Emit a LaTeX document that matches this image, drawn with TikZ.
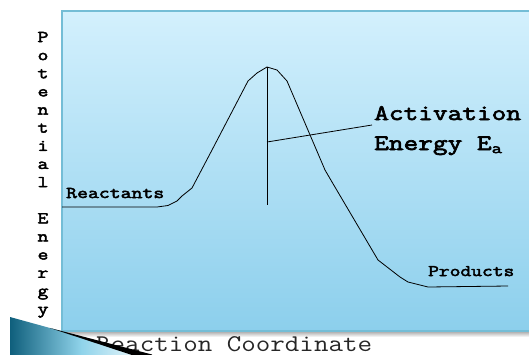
\documentclass[tikz,border=0pt]{standalone}
\usepackage{fontspec}
\newfontfamily\courB{Latin Modern Mono}[FakeStretch=1.29,FakeBold=3]
\newfontfamily\courR{Latin Modern Mono}[FakeStretch=1.175]
\begin{document}
\begin{tikzpicture}[x=1pt,y=-1pt,
  curve/.style={line width=0.8pt,black,line join=round},
  lbl/.style={inner sep=0pt,anchor=base west},
  vlet/.style={inner sep=0pt,anchor=base,font=\courB\fontsize{16.4}{16.4}\selectfont}]
\definecolor{boxtop}{HTML}{D3F0FD}
\definecolor{boxbot}{HTML}{8CCFEC}
\definecolor{boxline}{HTML}{74BDD6}
\definecolor{tealdark}{HTML}{0F5F7C}
\definecolor{teallight}{HTML}{8FD3EA}
\useasboundingbox (0,0) rectangle (529,354);
\clip (0,0) rectangle (529,354);
% shadow under the box
\shade[top color=black!35,bottom color=white] (62,331) rectangle (540,337);
% box
\shade[top color=boxtop,bottom color=boxbot] (62,11) rectangle (540,331);
\draw[boxline,line width=1.2pt] (540,11) -- (62,11) -- (62,331) -- (540,331);
% vertical axis label
\foreach \ch [count=\i from 0] in {P,o,t,e,n,t,i,a,l,{},E,n,e,r,g,y}
  \node[vlet] (v\i) at (43,{42+\i*18.13}) {\ch};
% curve
\coordinate (c0) at (62,207);
\coordinate (c1) at (508,286);
\draw[curve] (c0) -- (157,207) -- (168,205.5) -- (177,201) -- (182,196) -- (192,188)
  -- (212,150) -- (248,81) -- (257,73) -- (267,67) -- (277,70) -- (287,81)
  -- (325,170) -- (332,182) -- (378,260) -- (400,277) -- (408,282) -- (428,287) -- (c1);
% vertical line at the peak
\coordinate (peak) at (267,67);
\coordinate (base) at (267,205);
\draw[curve] (peak) -- (base);
% labels
\node[lbl,font=\courB\fontsize{16.4}{16.4}\selectfont] (react) at (66,198) {Reactants};
\node[lbl,font=\courB\fontsize{16.2}{16.2}\selectfont] (prod) at (428,276) {Products};
\node[lbl,font=\courB\fontsize{22.1}{22.1}\selectfont] (act) at (374,120) {Activation};
\node[lbl,font=\courB\fontsize{22.1}{22.1}\selectfont] (ener) at (374,150) {Energy E\textsubscript{a}};
\coordinate (ea) at (267,142);
\coordinate (eaend) at (372,125);
\draw[curve] (ea) -- (eaend);
% x axis label
\node[lbl,text=black!85,font=\courR\fontsize{24}{24}\selectfont] (xlab) at (96,351) {Reaction Coordinate};
% decoration at bottom left
\shade[left color=tealdark,right color=white,middle color=teallight] (10,317) -- (152,356) -- (10,356) -- cycle;
\fill[black] (50,328) -- (152,354.5) -- (152,357) -- (138,357) -- cycle;
\end{tikzpicture}
\end{document}
